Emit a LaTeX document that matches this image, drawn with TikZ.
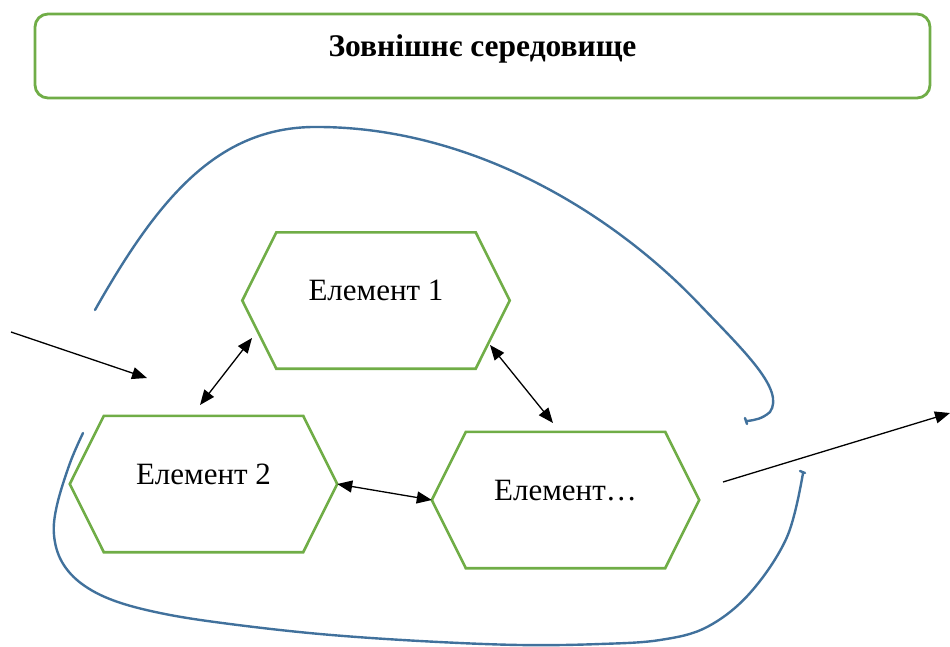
\documentclass[tikz,border=0pt]{standalone}
\usepackage{fontspec}
\setmainfont{Liberation Serif}
\usetikzlibrary{arrows.meta}
\definecolor{frgreen}{HTML}{70AD47}
\definecolor{frblue}{HTML}{41719C}
\newcommand\hexdraw[1]{\draw[hexline] (#1.west) -- ([xshift=34pt]#1.north west) -- ([xshift=-34pt]#1.north east) -- (#1.east) -- ([xshift=-34pt]#1.south east) -- ([xshift=34pt]#1.south west) -- cycle;}
\begin{document}
\begin{tikzpicture}[x=1pt,y=-1pt,
 hexnode/.style={rectangle, minimum width=267pt, minimum height=136pt, inner sep=0pt, text height=12pt, text depth=12pt, font=\fontsize{31}{36}\selectfont},
 hexline/.style={draw=frgreen, line width=2.6pt},
 titlebox/.style={draw=frgreen, line width=2.8pt, rounded corners=13pt, minimum width=895pt, minimum height=84pt, inner sep=0pt, text height=12pt, text depth=12pt, font=\fontsize{31.5}{36}\selectfont\bfseries},
 link/.style={line width=1.3pt, -{Triangle[length=15pt,width=12pt]}},
 dlink/.style={line width=1.3pt, {Triangle[length=15pt,width=12pt]}-{Triangle[length=15pt,width=12pt]}},
 flow/.style={draw=frblue, line width=2.4pt, line cap=round}]
\useasboundingbox (0,0) rectangle (950,646);
\node[titlebox] (env) at (482.5,56) {Зовнішнє середовище};
\node[hexnode] (e1) at (376,300.5) {Елемент 1};
\node[hexnode] (e2) at (203.5,484) {Елемент 2};
\node[hexnode] (e3) at (565.5,500) {Елемент…};
\hexdraw{e1}
\hexdraw{e2}
\hexdraw{e3}
% blue feedback curves
\draw[flow] (95,310) .. controls (160,195) and (220,125) .. (320,127)
  .. controls (470,128) and (610,210) .. (700,305)
  .. controls (745,352) and (785,390) .. (770,412)
  .. controls (762,419) and (755,420) .. (747,421);
\draw[flow] (745,418) -- (747,424);
\draw[flow] plot[smooth, tension=0.6] coordinates {(83,433) (70,463) (57,505) (54,535) (62,562) (82,584) (115,601) (165,614) (230,624) (320,634) (420,641) (520,645) (600,644) (660,640) (707,627) (750,593) (787,537) (803,473)};
\draw[flow] (800,471) -- (805,473);
% input / output
\coordinate (in) at (11,332);
\coordinate (inend) at (147,378);
\coordinate (out) at (950,413);
\draw[link] (in) -- (inend);
\draw[link] ([shift={(157.5,-18)}]e3.center) -- (out);
% interactions
\draw[dlink] ([shift={(-124,37.5)}]e1.center) -- ([shift={(-3.5,-79)}]e2.center);
\draw[dlink] ([shift={(114,44.5)}]e1.center) -- ([shift={(-12.5,-77)}]e3.center);
\draw[dlink] (e2.east) -- (e3.west);
\end{tikzpicture}
\end{document}
